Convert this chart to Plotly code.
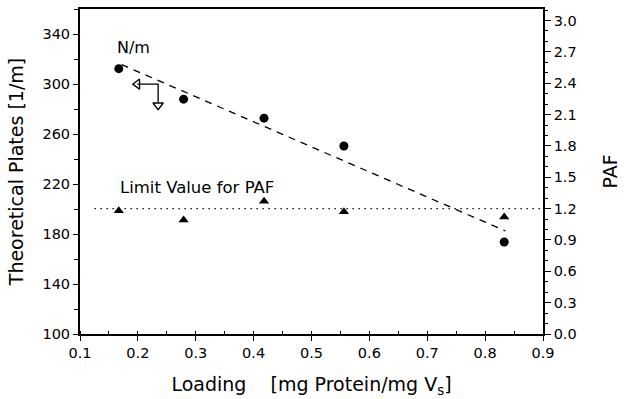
import plotly.graph_objects as go

# Data
loading = [0.167, 0.279, 0.418, 0.556, 0.833]
plates = [312.3, 287.9, 272.7, 250.4, 173.6]
paf = [1.18, 1.09, 1.27, 1.17, 1.12]
fit_x = [0.172, 0.835]
fit_y = [315.5, 182.5]
limit_x = [0.125, 0.9]
limit_paf = [1.2, 1.2]

FONT = "DejaVu Sans"
fig = go.Figure()

fig.add_trace(go.Scatter(x=fit_x, y=fit_y, mode="lines",
                         line=dict(color="black", width=1.3, dash="7px,6px"),
                         showlegend=False))
fig.add_trace(go.Scatter(x=loading, y=plates, mode="markers",
                         marker=dict(symbol="circle", size=9, color="black"),
                         showlegend=False))
fig.add_trace(go.Scatter(x=limit_x, y=limit_paf, mode="lines", yaxis="y2",
                         line=dict(color="black", width=1.4, dash="1.4px,4.6px"),
                         showlegend=False))
fig.add_trace(go.Scatter(x=loading, y=paf, mode="markers", yaxis="y2",
                         marker=dict(symbol="triangle-up", size=9, color="black"),
                         showlegend=False))

# axis-indicator arrow (circles -> left axis)
fig.add_trace(go.Scatter(x=[0.199, 0.235, 0.235], y=[299.9, 299.9, 285.5], mode="lines",
                         line=dict(color="black", width=1.3), showlegend=False))
fig.add_trace(go.Scatter(x=[0.199], y=[299.9], mode="markers",
                         marker=dict(symbol="triangle-left-open", size=9, color="black",
                                     line=dict(width=1.3)), showlegend=False))
fig.add_trace(go.Scatter(x=[0.235], y=[283], mode="markers",
                         marker=dict(symbol="triangle-down-open", size=9, color="black",
                                     line=dict(width=1.3)), showlegend=False))

fig.add_annotation(x=0.16, y=329, text="N/m", showarrow=False, xanchor="left",
                   font=dict(family=FONT, size=16, color="black"))
fig.add_annotation(x=0.166, y=217.5, text="Limit Value for PAF", showarrow=False,
                   xanchor="left", font=dict(family=FONT, size=16.5, color="black"))

tickfont = dict(family=FONT, size=14.5, color="black")
titlefont = dict(family=FONT, size=19, color="black")
fig.update_layout(
    width=625, height=399,
    margin=dict(l=80, r=82, t=7, b=61),
    plot_bgcolor="white", paper_bgcolor="white",
    xaxis=dict(range=[0.1, 0.9], dtick=0.1, tick0=0.1, tickformat=".1f",
               ticks="outside", ticklen=5, tickwidth=1.3, tickcolor="black",
               minor=dict(dtick=0.05, ticks="inside", ticklen=3, tickcolor="black"),
               showline=True, linecolor="black", linewidth=2, mirror=True,
               showgrid=False, zeroline=False, tickfont=tickfont,
               title=dict(text="Loading\u00a0\u00a0\u00a0\u00a0[mg Protein/mg V<sub>s</sub>]",
                          font=titlefont, standoff=17)),
    yaxis=dict(range=[100, 360], tick0=100, dtick=40,
               ticks="outside", ticklen=5, tickwidth=1.3, tickcolor="black",
               minor=dict(dtick=20, ticks="outside", ticklen=4, tickcolor="black"),
               showline=True, linecolor="black", linewidth=2,
               showgrid=False, zeroline=False, tickfont=tickfont,
               title=dict(text="Theoretical Plates [1/m]", font=titlefont, standoff=14)),
    yaxis2=dict(range=[0, 3.11], tick0=0, dtick=0.3, tickformat=".1f",
                overlaying="y", side="right",
                ticks="outside", ticklen=6, tickwidth=1.3, tickcolor="black",
                minor=dict(dtick=0.1, ticks="outside", ticklen=3, tickcolor="black"),
                showline=True, linecolor="black", linewidth=1.5,
                showgrid=False, zeroline=False, tickfont=tickfont,
                title=dict(text="PAF", font=titlefont, standoff=28)),
)

fig.write_html("out.html")
